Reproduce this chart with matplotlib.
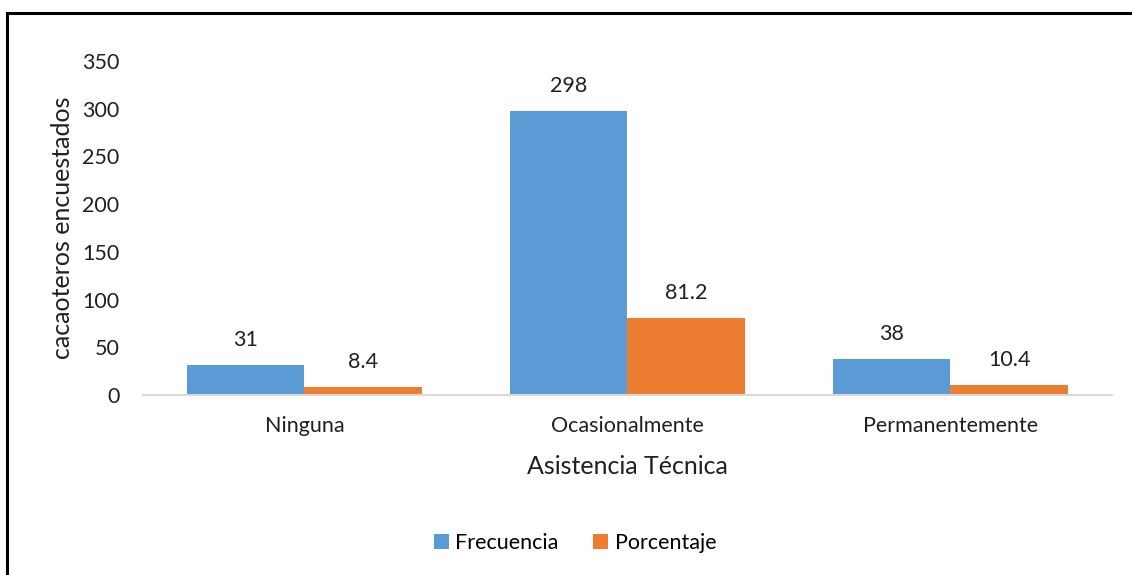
import numpy as np
import matplotlib.pyplot as plt
from matplotlib.lines import Line2D

plt.rcParams['font.family'] = ['Lato', 'DejaVu Sans']

categorias = ["Ninguna", "Ocasionalmente", "Permanentemente"]
frecuencia = [31, 298, 38]
porcentaje = [8.4, 81.2, 10.4]
etiq_frec = ["31", "298", "38"]
etiq_porc = ["8.4", "81.2", "10.4"]
yticks = [0, 50, 100, 150, 200, 250, 300, 350]

fig = plt.figure(figsize=(11.32, 5.75), dpi=100)
ax = fig.add_axes([0.1263, 0.313, 0.856, 0.581])

x = np.arange(len(categorias))
w = 0.365
b1 = ax.bar(x - w / 2, frecuencia, w, color='#5B9BD5', label='Frecuencia')
b2 = ax.bar(x + w / 2, porcentaje, w, color='#ED7D31', label='Porcentaje')

for bars, labs in ((b1, etiq_frec), (b2, etiq_porc)):
    for r, t in zip(bars, labs):
        ax.annotate(t, (r.get_x() + r.get_width() / 2, r.get_height()),
                    xytext=(0, 18), textcoords='offset points',
                    ha='center', va='center', fontsize=15.5, color='#202020')

ax.set_xlim(-0.5, 2.5)
ax.set_ylim(0, 350)
ax.set_yticks(yticks)
ax.set_xticks(x, categorias)
ax.tick_params(axis='both', length=0, labelsize=15.5, colors='#202020')
ax.tick_params(axis='x', pad=15)
ax.tick_params(axis='y', pad=17)
for s in ['top', 'right', 'left']:
    ax.spines[s].set_visible(False)
ax.spines['bottom'].set_color('#d9d9d9')
ax.spines['bottom'].set_linewidth(1.5)

ax.set_xlabel("Asistencia Técnica", fontsize=18, color='#202020', labelpad=14)
ax.set_ylabel("cacaoteros encuestados", fontsize=18, color='#202020')
ax.yaxis.set_label_coords(-0.071, 0.5)

fig.legend(loc='center', bbox_to_anchor=(0.508, 0.055), ncol=2, frameon=False,
           fontsize=15.5, handlelength=0.7, handleheight=0.7, columnspacing=1.6,
           handletextpad=0.3)

# marco (solo borde superior e izquierdo visibles)
fig.add_artist(Line2D([0.0062, 1], [0.9774, 0.9774], transform=fig.transFigure, color='black', lw=2.2))
fig.add_artist(Line2D([0.0062, 0.0062], [0, 0.9774], transform=fig.transFigure, color='black', lw=2.2))

fig.savefig('out.png', dpi=100)
